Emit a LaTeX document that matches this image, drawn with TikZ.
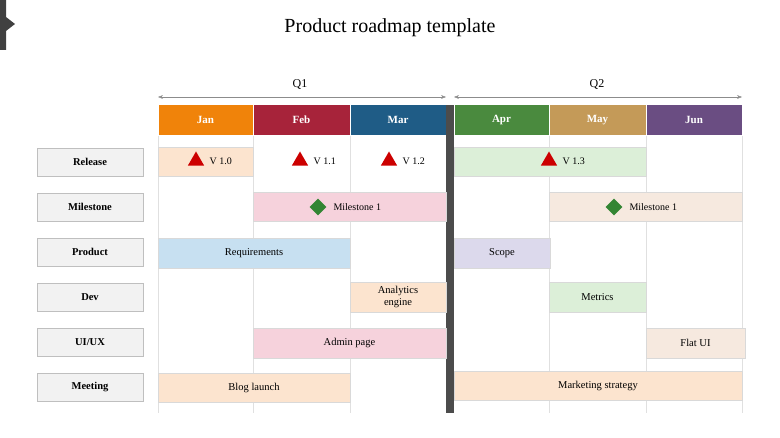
\documentclass[tikz,border=0pt]{standalone}
\usepackage{fontspec}
\setmainfont{Liberation Serif}
\usetikzlibrary{shapes.geometric,arrows.meta}
\definecolor{cJan}{HTML}{F0830A}\definecolor{cFeb}{HTML}{A7233A}
\definecolor{cMar}{HTML}{1F5C86}\definecolor{cApr}{HTML}{4A8A3E}
\definecolor{cMay}{HTML}{C49A58}\definecolor{cJun}{HTML}{6A4D82}
\definecolor{lOr}{HTML}{FCE4CF}\definecolor{lGr}{HTML}{DCEFD8}
\definecolor{lPk}{HTML}{F6D2DC}\definecolor{lTn}{HTML}{F6E9DF}
\definecolor{lBl}{HTML}{C7E0F1}\definecolor{lLv}{HTML}{DCD9EC}
\begin{document}
\begin{tikzpicture}[x=1pt,y=-1pt,
  mon/.style={draw=white,line width=0.6pt,text=white,font=\bfseries\fontsize{11}{13}\selectfont,inner sep=0},
  lab/.style={draw=black!25,fill=black!5,font=\bfseries\fontsize{10.5}{12}\selectfont,inner sep=0,minimum width=106pt,minimum height=28pt},
  bar/.style={draw=black!15,font=\fontsize{10.5}{12}\selectfont,inner sep=0,align=center},
  tri/.style={regular polygon,regular polygon sides=3,fill=red!80!black,inner sep=0,minimum size=19pt},
  dia/.style={diamond,fill=green!40!black!80,inner sep=0,minimum size=17pt},
  small/.style={font=\fontsize{10}{12}\selectfont,anchor=west}]
\useasboundingbox (0,0) rectangle (780,438);
\fill[black!75] (0,0) -- (6,0) -- (6,17) -- (15,24) -- (6,31) -- (6,50) -- (0,50) -- cycle;
\node (title) at (390,28) {\fontsize{20}{24}\selectfont Product roadmap template};
% grid
\foreach \x in {158,253,350,549,646,742}{\draw[black!12] (\x,135) -- (\x,413);}
% quarters
\node (q1) at (300,85) {\fontsize{12}{14}\selectfont Q1};
\node (q2) at (597,85) {\fontsize{12}{14}\selectfont Q2};
\coordinate (q1a) at (158,97); \coordinate (q1b) at (446,97);
\coordinate (q2a) at (454,97); \coordinate (q2b) at (742,97);
\draw[black!45,{Stealth[length=5pt]}-{Stealth[length=5pt]}] (q1a) -- (q1b);
\draw[black!45,{Stealth[length=5pt]}-{Stealth[length=5pt]}] (q2a) -- (q2b);
% months
\foreach \a/\b/\c/\t in {158/253/cJan/Jan,253/350/cFeb/Feb,350/446/cMar/Mar,454/549/cApr/Apr,549/646/cMay/May,646/742/cJun/Jun}{
  \node[mon,fill=\c,minimum width={\b-\a},minimum height=31pt] (m\t) at ({(\a+\b)/2},120) {\t};}
\fill[black!70] (446,105) rectangle (454,413);
% row labels
\foreach \y/\t/\n in {162/Release/r1,207/Milestone/r2,252/Product/r3,297/Dev/r4,342/UI\slash UX/r5,387/Meeting/r6}{
  \node[lab] (\n) at (90,\y) {\t};}
% release
\node[bar,fill=lOr,minimum width=95pt,minimum height=29pt] (b1) at (205.5,162) {};
\node[bar,fill=lGr,minimum width=192pt,minimum height=29pt] (b2) at (550,162) {};
\foreach \x/\t/\n in {196/V 1.0/t1,300/V 1.1/t2,389/V 1.2/t3,549/V 1.3/t4}{
  \node[tri] (\n) at (\x,161) {};
  \node[small] at (\x+10,161) {\t};}
% milestone
\node[bar,fill=lPk,minimum width=193pt,minimum height=29pt] (b3) at (349.5,207) {};
\node[bar,fill=lTn,minimum width=193pt,minimum height=29pt] (b4) at (645.5,207) {};
\node[dia] (d1) at (318,207) {}; \node[small] at (330,207) {Milestone 1};
\node[dia] (d2) at (614,207) {}; \node[small] at (626,207) {Milestone 1};
% product
\node[bar,fill=lBl,minimum width=192pt,minimum height=30pt] (b5) at (254,253) {Requirements};
\node[bar,fill=lLv,minimum width=96pt,minimum height=30pt] (b6) at (502,253) {Scope};
% dev
\node[bar,fill=lOr,minimum width=96pt,minimum height=30pt] (b7) at (398,297) {Analytics\\engine};
\node[bar,fill=lGr,minimum width=97pt,minimum height=30pt] (b8) at (597.5,297) {Metrics};
% ui
\node[bar,fill=lPk,minimum width=193pt,minimum height=30pt] (b9) at (349.5,343) {Admin page};
\node[bar,fill=lTn,minimum width=99pt,minimum height=30pt] (b10) at (695.5,343) {Flat UI};
% meeting
\node[bar,fill=lOr,minimum width=192pt,minimum height=29pt] (b11) at (254,388) {Blog launch};
\node[bar,fill=lOr,minimum width=288pt,minimum height=29pt] (b12) at (598,386) {Marketing strategy};
\end{tikzpicture}
\end{document}
